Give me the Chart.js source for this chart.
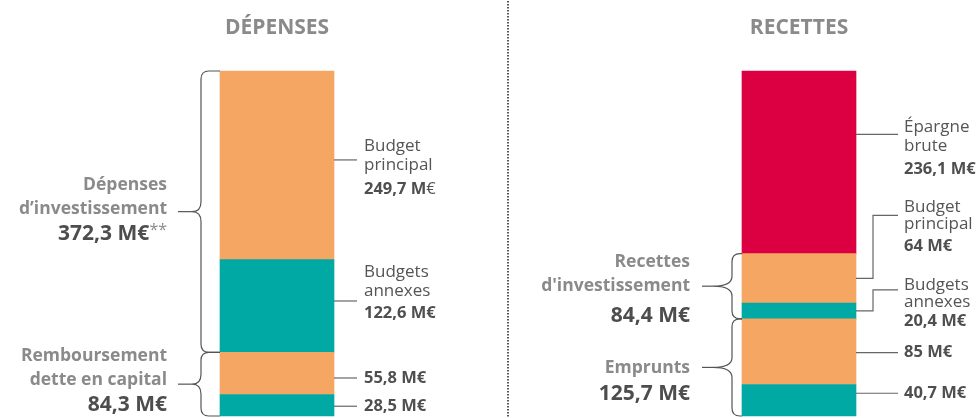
<!DOCTYPE html>
<html><head><meta charset="utf-8">
<script src="https://cdn.jsdelivr.net/npm/chart.js@4"></script>
<style>html,body{margin:0;padding:0;background:#fff}#wrap{width:979px;height:418px;position:relative}</style>
</head><body><div id="wrap"><canvas id="c"></canvas></div>
<script>
// ---- data ----
const categories = ['DÉPENSES', 'RECETTES'];
const depSegments = ['Remboursement budgets annexes', 'Remboursement budget principal', 'Budgets annexes', 'Budget principal'];
const depValues = [28.5, 55.8, 122.6, 249.7];
const depSegLabels = [[], [], ['Budgets', 'annexes'], ['Budget', 'principal']];
const recSegments = ['Emprunts budgets annexes', 'Emprunts budget principal', 'Budgets annexes', 'Budget principal', 'Épargne brute'];
const recValues = [40.7, 85, 20.4, 64, 236.1];
const recSegLabels = [[], [], ['Budgets', 'annexes'], ['Budget', 'principal'], ['Épargne', 'brute']];
const depGroups = [['Dépenses', 'd’investissement'], ['Remboursement', 'dette en capital']];
const depGroupValues = [372.3, 84.3];
const depGroupMembers = [[2, 3], [0, 1]];
const recGroups = [['Recettes', "d'investissement"], ['Emprunts']];
const recGroupValues = [84.4, 125.7];
const recGroupMembers = [[2, 3], [0, 1]];

// ---- styles ----
const ORANGE = '#F5A663', TEAL = '#00A9A4', RED = '#DC0043';
const depColors = [TEAL, ORANGE, TEAL, ORANGE];
const recColors = [TEAL, ORANGE, TEAL, ORANGE, RED];
const FONT = '"Open Sans", sans-serif';

const fmt = v => v.toLocaleString('fr-FR', {maximumFractionDigits: 1}) + ' M€';
const sum = a => a.reduce((s, v) => s + v, 0);

const datasets = [];
depValues.forEach((v, i) => datasets.push({label: depSegments[i], data: [v, null], yAxisID: 'yL', backgroundColor: depColors[i], side: 'dep', seg: i}));
recValues.forEach((v, i) => datasets.push({label: recSegments[i], data: [null, v], yAxisID: 'yR', backgroundColor: recColors[i], side: 'rec', seg: i}));

// layout of annotations (offsets relative to segment middles)
const depLayout = [
  {leader: 1}, {leader: 4.6},
  {leader: -5, first: -34, gap: [19, 22]},
  {leader: -5.4, first: -19.4, gap: [19, 24], euroRegular: true}
];
const recLayout = [
  {leader: -7}, {leader: 1},
  {elbow: true, first: -26, elbowEnd: 5, gap: [17, 19]},
  {elbow: true, first: -71, elbowEnd: 8, gap: [17, 22]},
  {leader: -28, first: -35, gap: [19, 23]}
];
const braceCfg = {
  dep: {spine: 19, point: 28, lead: 42, text: 53, groups: [{lines: [-27, -3, 22]}, {lines: [-28, -4, 21]}]},
  rec: {spine: 10, point: 29, lead: 40, text: 52, groups: [{lines: [-24, 0, 30]}, {lines: [1, 27]}]}
};
const SEG_LABEL_FONT = '17px ' + FONT;
const SEG_VALUE_FONT = 'bold 16.5px ' + FONT;
const SEG_VALUE_FONT_R = '16.5px ' + FONT;

function segBox(chart, side, seg) {
  const idx = chart.data.datasets.findIndex(d => d.side === side && d.seg === seg);
  const meta = chart.getDatasetMeta(idx);
  const el = meta.data[side === 'dep' ? 0 : 1];
  const top = Math.min(el.y, el.base), bot = Math.max(el.y, el.base);
  return {left: el.x - el.width / 2, right: el.x + el.width / 2, top, bot, mid: (top + bot) / 2};
}

function drawBrace(ctx, xTip, xSpine, xPoint, top, bottom) {
  const mid = (top + bottom) / 2, r = 8, rm = 10;
  ctx.beginPath();
  ctx.moveTo(xTip, top);
  ctx.lineTo(xSpine + r, top);
  ctx.quadraticCurveTo(xSpine, top, xSpine, top + r);
  ctx.lineTo(xSpine, mid - rm);
  ctx.quadraticCurveTo(xSpine, mid, xPoint, mid);
  ctx.quadraticCurveTo(xSpine, mid, xSpine, mid + rm);
  ctx.lineTo(xSpine, bottom - r);
  ctx.quadraticCurveTo(xSpine, bottom, xSpine + r, bottom);
  ctx.lineTo(xTip, bottom);
  ctx.stroke();
}

const annotations = {
  id: 'annotations',
  afterDatasetsDraw(chart) {
    const ctx = chart.ctx;
    const xs = chart.scales.x;
    ctx.save();
    // divider
    ctx.strokeStyle = '#222';
    ctx.lineWidth = 1.5;
    ctx.setLineDash([1.5, 1.5]);
    ctx.beginPath(); ctx.moveTo(508, 1); ctx.lineTo(508, 418); ctx.stroke();
    ctx.setLineDash([]);
    // titles
    ctx.fillStyle = '#8a8a8a';
    ctx.font = 'bold 21px ' + FONT;
    ctx.textAlign = 'center'; ctx.textBaseline = 'middle';
    categories.forEach((c, i) => ctx.fillText(c, xs.getPixelForValue(i), 28));

    // segment labels
    ctx.strokeStyle = '#666'; ctx.lineWidth = 1.2;
    const segLabels = (side, values, labels, layout, len, textGap) => {
      values.forEach((v, i) => {
        const b = segBox(chart, side, i);
        const L = layout[i];
        const x0 = b.right, x1 = b.right + len, tx = x1 + textGap;
        const lines = labels[i];
        let valueY;
        ctx.textAlign = 'left'; ctx.textBaseline = 'middle';
        if (!lines.length) {
          const y = b.mid + L.leader;
          ctx.beginPath(); ctx.moveTo(x0, y); ctx.lineTo(x1, y); ctx.stroke();
          valueY = y;
        } else {
          const first = b.mid + L.first;
          if (L.elbow) {
            const ey = first + L.elbowEnd, xm = x0 + 17;
            ctx.beginPath(); ctx.moveTo(x0, b.mid); ctx.lineTo(xm, b.mid); ctx.lineTo(xm, ey); ctx.lineTo(x1, ey); ctx.stroke();
          } else {
            const y = b.mid + L.leader;
            ctx.beginPath(); ctx.moveTo(x0, y); ctx.lineTo(x1, y); ctx.stroke();
          }
          ctx.fillStyle = '#555'; ctx.font = SEG_LABEL_FONT;
          let y = first;
          lines.forEach((t, k) => { ctx.fillText(t, tx, y); y += L.gap[k]; });
          valueY = first + L.gap[0] + L.gap[1];
        }
        ctx.fillStyle = '#4f4f4f';
        const txt = fmt(v);
        if (L.euroRegular) {
          ctx.font = SEG_VALUE_FONT;
          const main = txt.slice(0, -1);
          ctx.fillText(main, tx, valueY);
          const w = ctx.measureText(main).width;
          ctx.font = SEG_VALUE_FONT_R;
          ctx.fillText('€', tx + w, valueY);
        } else {
          ctx.font = SEG_VALUE_FONT;
          ctx.fillText(txt, tx, valueY);
        }
      });
    };
    segLabels('dep', depValues, depSegLabels, depLayout, 23, 7);
    segLabels('rec', recValues, recSegLabels, recLayout, 42, 6);

    // braces
    const braces = (side, groups, gvalues, members, cfg) => {
      groups.forEach((g, gi) => {
        const boxes = members[gi].map(s => segBox(chart, side, s));
        const top = Math.min(...boxes.map(b => b.top));
        const bot = Math.max(...boxes.map(b => b.bot));
        const left = boxes[0].left;
        const mid = (top + bot) / 2;
        ctx.strokeStyle = '#555'; ctx.lineWidth = 1.2;
        drawBrace(ctx, left, left - cfg.spine, left - cfg.point, top, bot);
        ctx.beginPath(); ctx.moveTo(left - cfg.lead, mid); ctx.lineTo(left - cfg.point, mid); ctx.stroke();
        const tx = left - cfg.text;
        const offs = cfg.groups[gi].lines;
        ctx.textAlign = 'right'; ctx.textBaseline = 'middle';
        ctx.fillStyle = '#8a8a8a'; ctx.font = 'bold 17.5px ' + FONT;
        g.forEach((t, k) => ctx.fillText(t, tx, mid + offs[k]));
        const vy = mid + offs[g.length];
        const vt = fmt(gvalues[gi]);
        if (side === 'dep' && gi === 0) {
          ctx.font = '16px ' + FONT; ctx.fillStyle = '#8a8a8a';
          const sw = ctx.measureText('**').width;
          ctx.textAlign = 'left';
          ctx.fillText('**', tx - sw, vy - 3);
          ctx.textAlign = 'right';
          ctx.font = 'bold 21px ' + FONT; ctx.fillStyle = '#4d4d4d';
          ctx.fillText(vt, tx - sw, vy);
        } else {
          ctx.font = 'bold 21px ' + FONT; ctx.fillStyle = '#4d4d4d';
          ctx.fillText(vt, tx, vy);
        }
      });
    };
    braces('dep', depGroups, depGroupValues, depGroupMembers, braceCfg.dep);
    braces('rec', recGroups, recGroupValues, recGroupMembers, braceCfg.rec);
    ctx.restore();
  }
};

new Chart(document.getElementById('c'), {
  type: 'bar',
  data: {labels: categories, datasets},
  options: {
    responsive: true, maintainAspectRatio: false, animation: false,
    layout: {padding: {left: 277, right: 180, top: 71, bottom: 2}},
    datasets: {bar: {barThickness: 114, grouped: false, clip: false, borderWidth: 0}},
    plugins: {legend: {display: false}, tooltip: {enabled: false}, title: {display: false}},
    scales: {
      x: {type: 'category', offset: false, display: false},
      yL: {type: 'linear', stacked: true, min: 0, max: sum(depValues), display: false},
      yR: {type: 'linear', stacked: true, min: 0, max: sum(recValues), display: false}
    }
  },
  plugins: [annotations]
});
</script>
</body></html>
